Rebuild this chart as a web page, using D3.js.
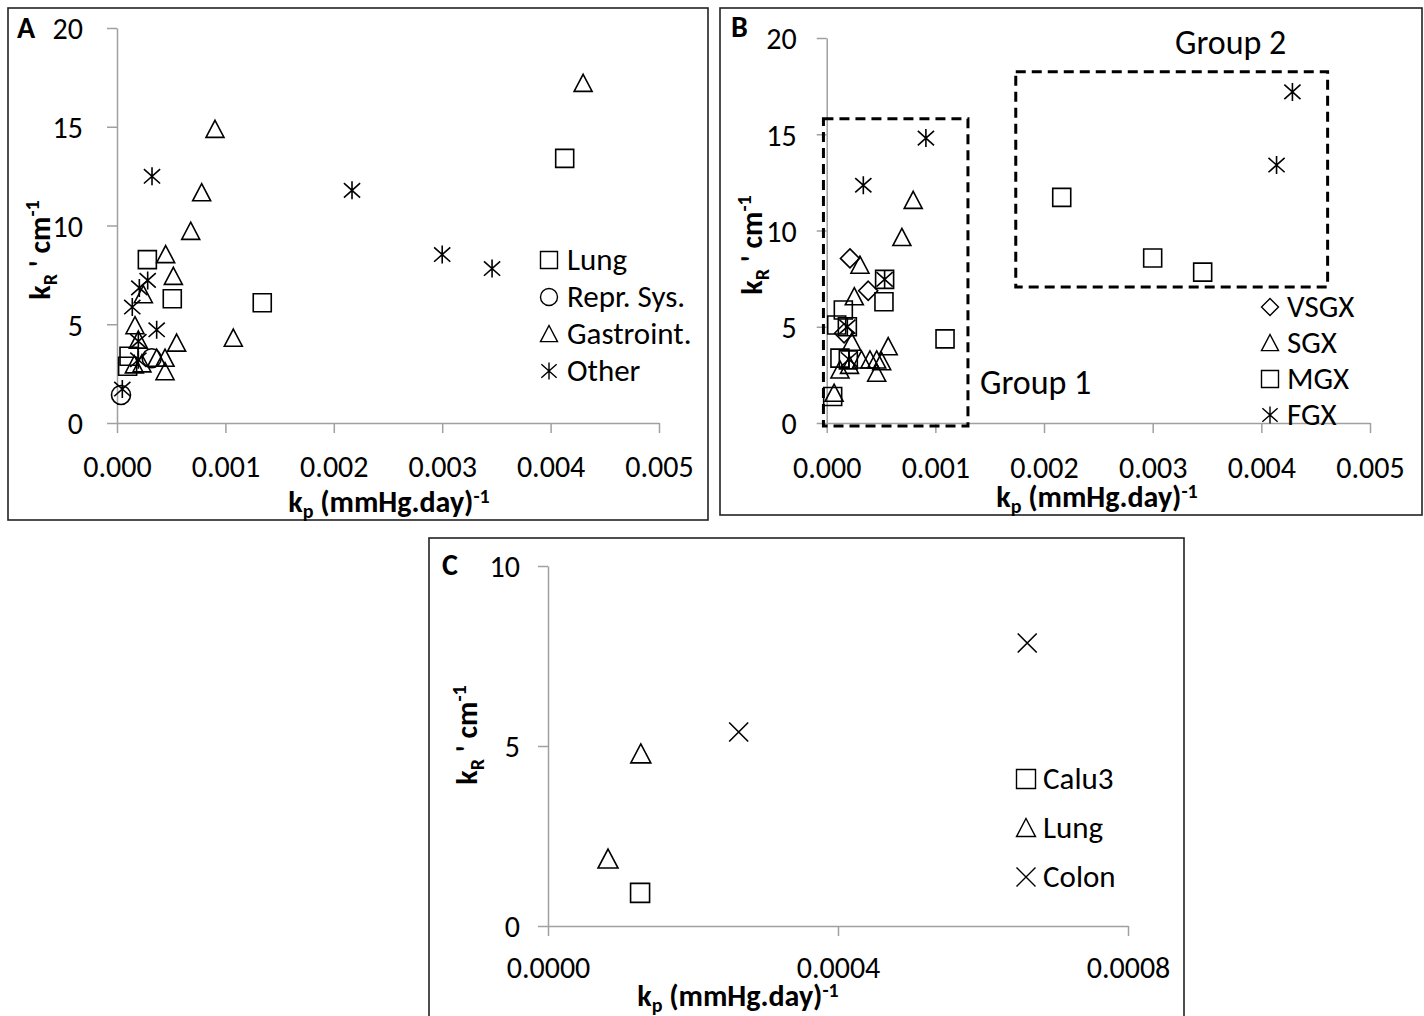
<!DOCTYPE html>
<html>
<head>
<meta charset="utf-8">
<script src="https://cdn.jsdelivr.net/npm/d3@7"></script>
<style>
  body { margin: 0; background: #fff; }
  svg text { font-family: Carlito, Lato, sans-serif; fill: #000; }
</style>
</head>
<body>
<svg id="chart" width="1424" height="1016"></svg>
<script>
// ---- panel A : by tissue type ----
const aLung = [[0.00413, 13.4], [0.00134, 6.09], [0.00028, 8.27], [0.00051, 6.29], [0.000111, 3.38], [0.000098, 2.87]]
const aRepr = [[0.000037, 1.42], [0.00032, 3.28]]
const aGastro = [[0.0043, 17.2], [0.000904, 14.87], [0.000781, 11.66], [0.00068, 9.71], [0.000449, 8.53],
  [0.00052, 7.43], [0.000243, 6.5], [0.000166, 4.93], [0.00055, 4.05], [0.001073, 4.3], [0.000197, 4.2],
  [0.000366, 3.28], [0.000443, 3.28], [0.000443, 2.6], [0.00016, 2.95], [0.00023, 3.0]]
const aOther = [[0.000323, 12.49], [0.002168, 11.78], [0.003, 8.53], [0.00346, 7.82], [0.000283, 7.22],
  [0.000206, 6.84], [0.000141, 5.87], [0.000366, 4.72], [0.000197, 4.14], [0.000197, 3.2], [0.000049, 1.72]]

// ---- panel B : by group ----
const bVSGX = [[0.000214, 8.55], [0.000382, 6.87], [0.00016, 4.66]]
const bSGX = [[0.000796, 11.57], [0.000692, 9.64], [0.000306, 8.2], [0.000254, 6.56], [0.000566, 3.97],
  [0.00023, 4.2], [0.00032, 3.28], [0.000398, 3.28], [0.00046, 3.28], [0.000506, 3.19], [0.000122, 2.76],
  [0.00046, 2.59], [0.000068, 1.55], [0.00021, 3.0]]
const bMGX = [[0.002163, 11.72], [0.003, 8.57], [0.00346, 7.84], [0.001089, 4.37], [0.000527, 6.3],
  [0.000533, 7.46], [0.000153, 5.87], [0.000092, 5.09], [0.00019, 5.0], [0.000122, 3.37], [0.000199, 3.28],
  [0.000055, 1.38]]
const bFGX = [[0.004286, 17.2], [0.00414, 13.4], [0.000913, 14.8], [0.000337, 12.35], [0.000533, 7.46],
  [0.00019, 5.0], [0.000205, 3.3]]
// dashed group outlines [x0, x1, y0, y1] in data units
const bGroup1 = [-0.00003, 0.0013, -0.15, 15.8]
const bGroup2 = [0.00174, 0.00461, 7.07, 18.25]

// ---- panel C : cell lines ----
const cCalu3 = [[0.000127, 0.92]]
const cLung = [[0.0000828, 1.86], [0.000128, 4.78]]
const cColon = [[0.000263, 5.39], [0.000661, 7.86]]

// tick values
const abTicksX = [0, 0.001, 0.002, 0.003, 0.004, 0.005]
const abTicksY = [0, 5, 10, 15, 20]
const cTicksX = [0, 0.0004, 0.0008]
const cTicksY = [0, 5, 10]

const aNames = ['Lung', 'Repr. Sys.', 'Gastroint.', 'Other']
const bNames = ['VSGX', 'SGX', 'MGX', 'FGX']
const cNames = ['Calu3', 'Lung', 'Colon']

// marker shapes, size = marker width in px
const shapes = {
  square: { draw (c, s) { const r = s / 2; c.rect(-r, -r, s, s) } },
  circle: { draw (c, s) { const r = s / 2; c.moveTo(r, 0); c.arc(0, 0, r, 0, 2 * Math.PI) } },
  triangle: { draw (c, s) { const r = s / 2; c.moveTo(0, -r); c.lineTo(r, r * 0.9); c.lineTo(-r, r * 0.9); c.closePath() } },
  diamond: { draw (c, s) { const r = s / 2; c.moveTo(0, -r); c.lineTo(r, 0); c.lineTo(0, r); c.lineTo(-r, 0); c.closePath() } },
  star: { draw (c, s) {
    const r = s / 2
    c.moveTo(0, -r); c.lineTo(0, r)
    c.moveTo(-r * 0.9, -r * 0.8); c.lineTo(r * 0.9, r * 0.8)
    c.moveTo(-r * 0.9, r * 0.8); c.lineTo(r * 0.9, -r * 0.8)
  } },
  cross: { draw (c, s) { const r = s / 2; c.moveTo(-r, -r); c.lineTo(r, r); c.moveTo(-r, r); c.lineTo(r, -r) } }
}

const svg = d3.select('#chart')

function panel (p) {
  const g = svg.append('g')
  g.append('rect')
    .attr('x', p.box[0]).attr('y', p.box[1])
    .attr('width', p.box[2] - p.box[0]).attr('height', p.box[3] - p.box[1])
    .attr('fill', 'none').attr('stroke', '#222').attr('stroke-width', 1.6)

  const x = d3.scaleLinear().domain(p.xDomain).range(p.xRange)
  const y = d3.scaleLinear().domain(p.yDomain).range(p.yRange)

  const xAxis = g.append('g')
    .attr('transform', `translate(0,${p.yRange[0]})`)
    .call(d3.axisBottom(x).tickValues(p.ticksX).tickFormat(d3.format(p.fmt)).tickSize(10).tickSizeOuter(0))
  xAxis.selectAll('text').attr('y', p.xLabelY).attr('dy', 0)

  const yAxis = g.append('g')
    .attr('transform', `translate(${p.xRange[0]},0)`)
    .call(d3.axisLeft(y).tickValues(p.ticksY).tickSize(10).tickSizeOuter(0))
  yAxis.selectAll('text').attr('x', -p.yLabelX).attr('dy', '0.36em')

  g.selectAll('.domain, .tick line').attr('stroke', '#a0a0a0').attr('stroke-width', 1.5)
  g.selectAll('.tick text').attr('font-size', 30).attr('font-family', 'Carlito, Lato, sans-serif').attr('fill', '#000')

  // axis titles
  const xt = g.append('text').attr('x', p.xTitle[0]).attr('y', p.xTitle[1])
    .attr('text-anchor', 'middle').attr('font-weight', 'bold').attr('font-size', 30)
  xt.append('tspan').text('k')
  xt.append('tspan').attr('font-size', 20).attr('dy', 6).text('p')
  xt.append('tspan').attr('dy', -6).text(' (mmHg.day)')
  xt.append('tspan').attr('font-size', 20).attr('dy', -9).text('-1')

  const yt = g.append('text')
    .attr('transform', `translate(${p.yTitle[0]},${p.yTitle[1]}) rotate(-90)`)
    .attr('text-anchor', 'middle').attr('font-weight', 'bold').attr('font-size', 30)
  yt.append('tspan').text('k')
  yt.append('tspan').attr('font-size', 20).attr('dy', 7).text('R')
  yt.append('tspan').attr('dy', -7).text(" ' cm")
  yt.append('tspan').attr('font-size', 20).attr('dy', -11).text('-1')

  g.append('text').attr('x', p.letter[0]).attr('y', p.letter[1])
    .attr('font-weight', 'bold').attr('font-size', 30).text(p.name)

  return { g, x, y }
}

function series (pn, data, shape, size) {
  pn.g.append('g').selectAll('path')
    .data(data)
    .join('path')
    .attr('transform', d => `translate(${pn.x(d[0])},${pn.y(d[1])})`)
    .attr('d', d3.symbol().type(shapes[shape]).size(size))
    .attr('fill', 'none').attr('stroke', '#000').attr('stroke-width', 1.6)
}

function legend (pn, names, kinds, mx, tx, rows, size) {
  names.forEach((n, i) => {
    pn.g.append('path')
      .attr('transform', `translate(${mx},${rows[i]})`)
      .attr('d', d3.symbol().type(shapes[kinds[i]]).size(size))
      .attr('fill', 'none').attr('stroke', '#000').attr('stroke-width', 1.4)
    pn.g.append('text').attr('x', tx).attr('y', rows[i] + 10).attr('font-size', 31).text(n)
  })
}

// ---- A ----
const A = panel({
  name: 'A', box: [8, 8, 708, 520], letter: [17, 38],
  xDomain: [0, 0.005], xRange: [117, 659], yDomain: [0, 20], yRange: [423, 28],
  ticksX: abTicksX, ticksY: abTicksY, fmt: '.3f', xLabelY: 54, yLabelX: 34,
  xTitle: [389, 512], yTitle: [50, 250]
})
series(A, aLung, 'square', 18)
series(A, aRepr, 'circle', 19)
series(A, aGastro, 'triangle', 18)
series(A, aOther, 'star', 18)
legend(A, aNames, ['square', 'circle', 'triangle', 'star'], 549, 567, [260, 297, 334, 371], 17)

// ---- B ----
const B = panel({
  name: 'B', box: [720, 8, 1422, 515], letter: [731, 37],
  xDomain: [0, 0.005], xRange: [826.7, 1370], yDomain: [0, 20], yRange: [423, 38],
  ticksX: abTicksX, ticksY: abTicksY, fmt: '.3f', xLabelY: 55, yLabelX: 30,
  xTitle: [1097, 507], yTitle: [762, 245]
})
;[bGroup1, bGroup2].forEach(r => {
  B.g.append('rect')
    .attr('x', B.x(r[0])).attr('y', B.y(r[3]))
    .attr('width', B.x(r[1]) - B.x(r[0])).attr('height', B.y(r[2]) - B.y(r[3]))
    .attr('fill', 'none').attr('stroke', '#000').attr('stroke-width', 3).attr('stroke-dasharray', '10,6')
})
series(B, bVSGX, 'diamond', 19)
series(B, bSGX, 'triangle', 18)
series(B, bMGX, 'square', 18)
series(B, bFGX, 'star', 18)
B.g.append('text').attr('x', 1175).attr('y', 54).attr('font-size', 34).text('Group 2')
B.g.append('text').attr('x', 980).attr('y', 394).attr('font-size', 34).text('Group 1')
legend(B, bNames, ['diamond', 'triangle', 'square', 'star'], 1270, 1287, [307, 343, 379, 415], 17)

// ---- C ----
const C = panel({
  name: 'C', box: [429, 538, 1184, 1030], letter: [442, 575],
  xDomain: [0, 0.0008], xRange: [548, 1128], yDomain: [0, 10], yRange: [926, 566],
  ticksX: cTicksX, ticksY: cTicksY, fmt: '.4f', xLabelY: 52, yLabelX: 28,
  xTitle: [738, 1006], yTitle: [477, 735]
})
series(C, cCalu3, 'square', 19)
series(C, cLung, 'triangle', 20)
series(C, cColon, 'cross', 19)
legend(C, cNames, ['square', 'triangle', 'cross'], 1026, 1043, [779, 828, 877], 19)
</script>
</body>
</html>
